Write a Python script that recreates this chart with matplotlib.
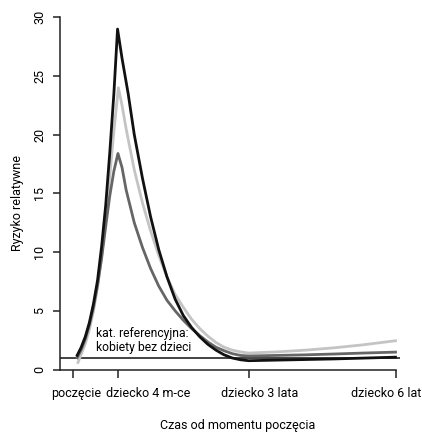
import matplotlib
matplotlib.use('Agg')
import matplotlib.pyplot as plt

plt.rcParams['font.family'] = ['Roboto', 'DejaVu Sans']

# odczytane wartości (czas w jednostkach osi, ryzyko relatywne)
x_czarna = [1, 2, 3, 4, 5, 6, 7, 8, 9, 10, 10.9, 12, 13.5, 15, 17, 19, 21, 23, 25, 27, 29, 31, 33, 35, 37, 39, 41, 43, 50, 57, 64, 71, 79]
y_czarna = [1.2, 1.9, 2.8, 4.0, 5.6, 7.6, 10.5, 14.0, 18.5, 23.5, 29.0, 26.5, 23.5, 20.0, 16.3, 13.0, 10.2, 7.9, 6.0, 4.6, 3.6, 2.8, 2.15, 1.65, 1.25, 0.98, 0.83, 0.75, 0.8, 0.85, 0.9, 0.97, 1.05]

x_jasna = [1.2, 2, 3, 4, 5, 6, 7, 8, 9, 10, 11.1, 12, 13, 15, 17, 19, 21, 23, 25, 27, 29, 31, 33, 35, 37, 39, 41, 43, 50, 57, 64, 71, 79]
y_jasna = [0.6, 1.3, 2.2, 3.4, 5.0, 7.0, 9.6, 12.8, 16.5, 20.3, 24.0, 22.5, 20.5, 17.0, 14.2, 11.8, 9.7, 7.9, 6.4, 5.3, 4.3, 3.5, 2.85, 2.3, 1.9, 1.65, 1.5, 1.4, 1.5, 1.65, 1.85, 2.1, 2.45]

x_ciemna = [1, 2, 3, 4, 5, 6, 7, 8, 9, 10, 11, 12, 13, 15, 17, 19, 21, 23, 25, 27, 29, 31, 33, 35, 37, 39, 41, 43, 50, 57, 64, 71, 79]
y_ciemna = [1.0, 1.7, 2.6, 3.8, 5.3, 7.2, 9.5, 12.2, 14.8, 16.9, 18.4, 17.2, 15.3, 12.5, 10.4, 8.6, 7.1, 5.9, 5.0, 4.2, 3.5, 2.9, 2.35, 1.9, 1.6, 1.35, 1.2, 1.15, 1.2, 1.25, 1.32, 1.4, 1.48]

ticki_x = [0, 11, 43, 79]
etykiety_x = ['poczęcie', 'dziecko 4 m-ce', 'dziecko 3 lata', 'dziecko 6 lat']
pozycje_etykiet_x = [0.7, 18.5, 45.6, 76.7]
ticki_y = [0, 5, 10, 15, 20, 25, 30]

fs = 9

fig = plt.figure(figsize=(4.22, 4.32), dpi=100)
ax = fig.add_axes([60 / 422, 62.5 / 432, 340 / 422, 352.2 / 432])

ax.axhline(1, color='#222222', lw=1.2)
ax.plot(x_jasna, y_jasna, color='#c4c4c4', lw=2)
ax.plot(x_ciemna, y_ciemna, color='#666666', lw=2)
ax.plot(x_czarna, y_czarna, color='#111111', lw=2)

ax.text(5.7, 1.3, 'kat. referencyjna:\nkobiety bez dzieci', fontsize=8.7,
        ha='left', va='bottom', linespacing=1.15)

ax.set_xlim(-3.2, 80.1)
ax.set_ylim(0, 30)

for s in ['top', 'right']:
    ax.spines[s].set_visible(False)
ax.spines['left'].set_bounds(0, 30)
ax.spines['bottom'].set_bounds(-3.2, 79)
for s in ['left', 'bottom']:
    ax.spines[s].set_linewidth(1.1)
    ax.spines[s].set_color('#222222')

ax.set_xticks(ticki_x)
ax.set_xticklabels([])
for xp, lab in zip(pozycje_etykiet_x, etykiety_x):
    ax.text(xp, -0.068, lab, transform=ax.get_xaxis_transform(), fontsize=fs,
            ha='center', va='center')
ax.set_yticks(ticki_y)
ax.set_yticklabels([str(v) for v in ticki_y], fontsize=fs, rotation=90, va='center')
ax.tick_params(axis='x', length=6, width=1.1, color='#222222')
ax.tick_params(axis='y', length=5, width=1.1, pad=5, color='#222222')

fig.text(238 / 422, 1 - 425 / 432, 'Czas od momentu poczęcia', fontsize=fs,
         ha='center', va='center')
fig.text(18 / 422, 1 - 203 / 432, 'Ryzyko relatywne', fontsize=fs,
         ha='center', va='center', rotation=90)

fig.savefig('out.png', dpi=100)
